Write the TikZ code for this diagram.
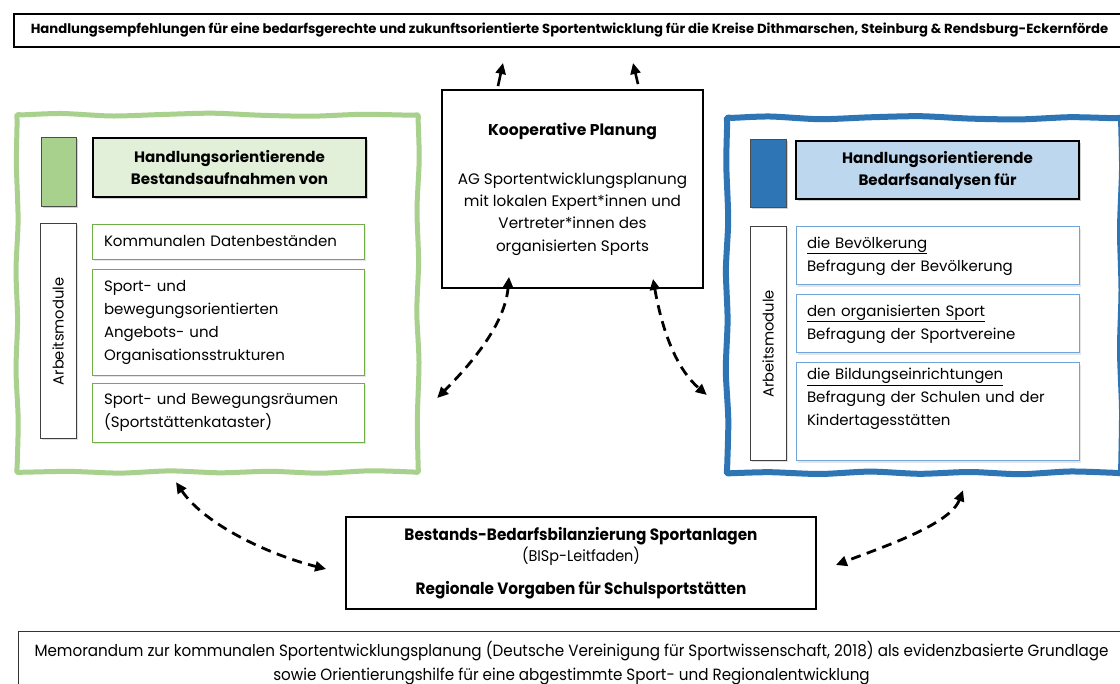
\documentclass[tikz,border=0pt]{standalone}
\usepackage{fontspec}
\setmainfont{Poppins}
\newfontfamily\condf[FakeStretch=0.93]{Poppins}
\usetikzlibrary{arrows.meta,shadows,calc}
\definecolor{grn}{HTML}{A9D18E}
\definecolor{grnlt}{HTML}{E2F0D9}
\definecolor{grnmod}{HTML}{70AD47}
\definecolor{blu}{HTML}{2E75B6}
\definecolor{blult}{HTML}{BDD7EE}
\definecolor{blumod}{HTML}{6FA5DA}
\tikzset{
  txt/.style={font=\fontsize{15}{23}\selectfont},
  hd/.style={draw=black, line width=1.8pt, inner sep=0pt, align=center,
    font=\bfseries\fontsize{15.1}{22}\selectfont,
    drop shadow={shadow xshift=2pt, shadow yshift=-2pt, opacity=0.35}},
  sq/.style={draw=black!70, line width=0.8pt, inner sep=0pt,
    drop shadow={shadow xshift=2pt, shadow yshift=-2pt, opacity=0.35}},
  amb/.style={draw=black!75, line width=1pt, fill=white, inner sep=0pt, minimum width=36pt,
    drop shadow={shadow xshift=1.5pt, shadow yshift=-1.5pt, opacity=0.25}},
  amt/.style={rotate=90, font=\fontsize{14.7}{16}\selectfont},
  modg/.style={draw=grnmod, line width=0.8pt, fill=white, inner xsep=12pt, inner ysep=0pt,
    text width=248pt, align=left, txt,
    drop shadow={shadow xshift=2pt, shadow yshift=-2pt, opacity=0.2}},
  modb/.style={draw=blumod, line width=1pt, fill=white, inner xsep=11pt, inner ysep=0pt,
    text width=261pt, align=left, txt,
    drop shadow={shadow xshift=2pt, shadow yshift=-2pt, opacity=0.2}},
  panel/.style={draw=none, inner sep=0pt},
  wavy/.style={line width=5pt, line join=round},
  darr/.style={line width=2.8pt, dash pattern=on 10pt off 6.5pt,
    {Triangle[length=11pt,width=10pt]}-{Triangle[length=11pt,width=10pt]}},
  uarr/.style={line width=2.6pt, -{Triangle[length=11pt,width=10pt]}},
}
\begin{document}
\begin{tikzpicture}[x=1pt,y=-1pt]
\useasboundingbox (0,0) rectangle (1120,684);
\clip (0,0) rectangle (1120,684);
\fill[white] (0,0) rectangle (1120,684);

% top bar
\node[draw, line width=2pt, minimum width=1111pt, minimum height=33pt, inner sep=0pt,
  font=\bfseries\fontsize{13.2}{15}\selectfont] (top) at (569.5,30.5)
  {Handlungsempfehlungen für eine bedarfsgerechte und zukunftsorientierte Sportentwicklung für die Kreise Dithmarschen, Steinburg \& Rendsburg-Eckernförde};

% center box
\node[draw, line width=1.8pt, minimum width=261pt, minimum height=198pt, inner sep=0pt,
  align=center, font=\fontsize{15.2}{22.3}\selectfont] (kp) at (572.5,189)
  {{\bfseries\fontsize{15.6}{22.3}\selectfont Kooperative Planung}\\[26.5pt]
   AG Sportentwicklungsplanung\\ mit lokalen Expert*innen und\\ Vertreter*innen des\\ organisierten Sports};

% left panel
\node[panel, minimum width=401pt, minimum height=357pt] (lp) at (217.5,293.5) {};
\draw[wavy, grn] plot[smooth cycle, tension=0.45] coordinates {
  (17,115) (24,114.8) (62,113.5) (112,116) (162,114.5) (212,113.2) (262,115.3) (312,116.2) (362,114.3) (411,115.2) (418,115)
  (418.2,122) (419.2,160) (417,210) (418.6,262) (416.8,312) (419,362) (417.3,420) (418.1,465) (418,472)
  (411,471.9) (370,470.8) (320,473.2) (270,471.3) (220,472.8) (170,470.9) (120,473.1) (70,471.4) (24,472.2) (17,472)
  (17.2,465) (18.2,420) (16,370) (17.6,320) (16,270) (18.1,220) (16.4,165) (17.1,122)};
\node[sq, fill=grn, minimum width=35pt, minimum height=69pt] (lsq) at (58.5,171.5) {};
\node[hd, fill=grnlt, minimum width=273pt, minimum height=59pt] (lhd) at (229.5,167.5)
  {Handlungsorientierende\\Bestandsaufnahmen von};
\node[amb, minimum height=215pt] (lam) at (58,331.5) {};
\node[amt] (lamt) at (lam.center) {Arbeitsmodule};
\node[modg, minimum height=35pt] (lm1) at (228,241.5) {Kommunalen Datenbeständen};
\node[modg, minimum height=106pt] (lm2) at (228,322)
  {Sport- und\\ bewegungsorientierten\\ Angebots- und\\ Organisationsstrukturen};
\node[modg, minimum height=59pt] (lm3) at (228,412.5)
  {Sport- und Bewegungsräumen\\ (Sportstättenkataster)};

% right panel
\node[panel, minimum width=394pt, minimum height=355pt] (rp) at (924,295.5) {};
\draw[wavy, blu, line width=6pt] plot[smooth cycle, tension=0.45] coordinates {
  (727,118) (734,117.8) (770,116.5) (820,119.2) (870,117.3) (920,116.2) (970,118.6) (1020,119.4) (1070,117.2) (1114,118.2) (1121,118)
  (1121.2,125) (1122,170) (1120,230) (1121.5,290) (1120,350) (1122,410) (1121.2,466) (1121,473)
  (1114,472.8) (1070,471.5) (1020,474.2) (970,472) (920,473.8) (870,471.6) (820,474) (770,472.2) (734,473.1) (727,473)
  (727.2,466) (728.3,420) (725.8,370) (727.6,320) (725.9,270) (728.2,220) (726.3,165) (727.1,125)};
\node[sq, fill=blu, minimum width=36pt, minimum height=68pt] (rsq) at (768,173) {};
\node[hd, fill=blult, minimum width=283pt, minimum height=58pt] (rhd) at (937.5,170)
  {Handlungsorientierende\\Bedarfsanalysen für};
\node[amb, minimum height=234pt] (ram) at (768,344) {};
\node[amt] (ramt) at (ram.center) {Arbeitsmodule};
\node[modb, minimum height=58pt] (rm1) at (937.5,256)
  {\underline{die Bevölkerung}\\ Befragung der Bevölkerung};
\node[modb, minimum height=58pt] (rm2) at (937.5,324)
  {\underline{den organisierten Sport}\\ Befragung der Sportvereine};
\node[modb, minimum height=98pt] (rm3) at (937.5,412)
  {\underline{die Bildungseinrichtungen}\\ Befragung der Schulen und der\\ Kindertagesstätten\\ \strut};

% bottom box
\node[draw, line width=1.8pt, minimum width=470pt, minimum height=92pt, inner sep=0pt,
  align=center, font=\condf\fontsize{16.4}{21}\selectfont] (bb) at (581,563)
  {{\bfseries Bestands-Bedarfsbilanzierung Sportanlagen}\\
   {\fontsize{15.5}{21}\selectfont (BISp-Leitfaden)}\\[12pt]
   {\bfseries Regionale Vorgaben für Schulsportstätten}};

% memo box
\node[draw=black!80, line width=1pt, minimum width=1107pt, minimum height=64pt, inner sep=0pt,
  align=center, font=\condf\fontsize{16.3}{24}\selectfont] (memo) at (571.5,663)
  {Memorandum zur kommunalen Sportentwicklungsplanung (Deutsche Vereinigung für Sportwissenschaft, 2018) als evidenzbasierte Grundlage\\
   sowie Orientierungshilfe für eine abgestimmte Sport- und Regionalentwicklung};

% connectors
\draw[uarr] ($(kp.north)+(-74.5,-3)$) -- ($(top.south)+(-66.5,15)$);
\draw[uarr] ($(kp.north)+(65.5,-5)$) -- ($(top.south)+(63.5,15)$);
\draw[darr] ($(kp.south)+(-63.5,-12)$) .. controls (505,325) and (470,365) .. ($(lp.east)+(19,104.5)$);
\draw[darr] ($(kp.south)+(80.5,-10)$) .. controls (664,340) and (680,372) .. ($(rp.west)+(-20,99.5)$);
\draw[darr] ($(lp.south)+(-41.5,10)$) .. controls (205,525) and (270,555) .. ($(bb.west)+(-19,6)$);
\draw[darr] ($(rp.south)+(39,17)$) .. controls (950,525) and (880,548) .. ($(bb.east)+(19,2)$);
\end{tikzpicture}
\end{document}
